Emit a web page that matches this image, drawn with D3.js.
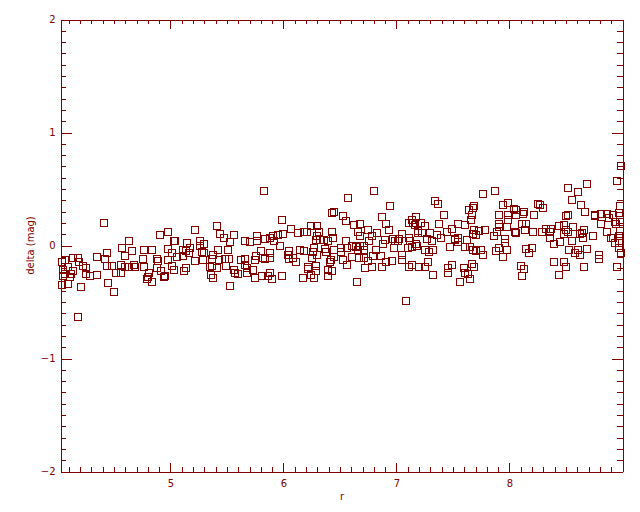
<!DOCTYPE html>
<html><head><meta charset="utf-8">
<script src="https://cdn.jsdelivr.net/npm/d3@7"></script>
<style>body{margin:0;background:#fff}svg{display:block}</style>
</head><body>
<svg id="c" width="640" height="512"></svg>
<script>
// tick labels
const xMajor = [5, 6, 7, 8];
const yMajor = [-2, -1, 0, 1, 2];
const xLabel = "r";
const yLabel = "delta (mag)";
// [r, delta] samples, grouped by r
const r4to5 = [[4.41,0.20],[4.18,-0.63],[4.63,0.04],[4.57,-0.02],[4.66,-0.05],[4.60,-0.09],[4.44,-0.07],[4.42,-0.12],[4.35,-0.10],[4.14,-0.11],[4.18,-0.11],[4.07,-0.13],[4.19,-0.15],[4.23,-0.18],[4.25,-0.20],[4.09,-0.19],[4.04,-0.15],[4.14,-0.23],[4.12,-0.25],[4.07,-0.25],[4.05,-0.27],[4.11,-0.28],[4.04,-0.35],[4.09,-0.34],[4.21,-0.37],[4.25,-0.25],[4.29,-0.27],[4.35,-0.26],[4.44,-0.18],[4.48,-0.18],[4.45,-0.33],[4.50,-0.41],[4.52,-0.24],[4.56,-0.24],[4.56,-0.17],[4.60,-0.19],[4.63,-0.19],[4.68,-0.17],[4.69,-0.19],[4.77,-0.04],[4.76,-0.12],[4.77,-0.19],[4.84,-0.04],[4.91,0.09],[4.98,0.12],[4.88,-0.12],[4.89,-0.14],[4.88,-0.20],[4.81,-0.24],[4.80,-0.28],[4.79,-0.30],[4.84,-0.32],[4.92,-0.23],[4.94,-0.28],[4.95,-0.27],[4.98,-0.03],[5.01,-0.07],[5.03,0.04],[4.98,-0.13],[5.01,-0.18],[5.03,-0.22],[4.05,-0.22]];
const r5to6 = [[5.83,0.48],[5.99,0.23],[5.41,0.17],[5.22,0.14],[5.44,0.10],[5.47,0.07],[5.56,0.09],[5.53,0.03],[5.04,0.04],[5.15,0.02],[5.26,0.04],[5.30,0.01],[5.26,0.00],[5.17,-0.02],[5.11,-0.04],[5.14,-0.05],[5.16,-0.07],[5.28,-0.06],[5.30,-0.07],[5.06,-0.10],[5.11,-0.09],[5.38,-0.08],[5.42,-0.04],[5.51,-0.04],[5.66,0.04],[5.70,0.03],[5.77,0.08],[5.77,0.04],[5.84,0.06],[5.88,0.07],[5.91,0.08],[5.95,0.09],[5.92,0.04],[5.97,0.00],[6.00,0.10],[5.22,-0.14],[5.29,-0.13],[5.37,-0.12],[5.43,-0.13],[5.48,-0.12],[5.52,-0.12],[5.35,-0.19],[5.37,-0.18],[5.41,-0.20],[5.49,-0.18],[5.36,-0.26],[5.38,-0.29],[5.53,-0.36],[5.56,-0.22],[5.57,-0.24],[5.60,-0.25],[5.62,-0.13],[5.66,-0.12],[5.66,-0.17],[5.68,-0.20],[5.68,-0.24],[5.73,-0.22],[5.75,-0.13],[5.76,-0.09],[5.80,-0.05],[5.82,-0.11],[5.84,-0.12],[5.88,-0.07],[5.88,-0.11],[5.81,-0.27],[5.75,-0.29],[5.86,-0.27],[5.88,-0.24],[5.90,-0.30],[5.99,-0.27],[5.12,-0.23],[5.14,-0.20]];
const r6to7 = [[6.80,0.48],[6.57,0.42],[6.94,0.35],[6.43,0.29],[6.45,0.30],[6.53,0.26],[6.55,0.22],[6.87,0.25],[6.91,0.19],[6.93,0.14],[6.62,0.18],[6.68,0.19],[6.75,0.14],[6.66,0.12],[6.83,0.11],[6.68,0.08],[6.78,0.08],[6.90,0.05],[6.97,0.06],[6.99,0.04],[6.98,-0.02],[6.88,0.01],[6.76,0.04],[6.43,0.12],[6.44,0.07],[6.07,0.15],[6.13,0.11],[6.18,0.12],[6.21,0.12],[6.24,0.17],[6.30,0.17],[6.31,0.12],[6.30,0.08],[6.29,0.05],[6.32,0.05],[6.36,0.05],[6.39,0.04],[6.55,0.04],[6.51,-0.02],[6.56,-0.02],[6.61,0.00],[6.64,-0.01],[6.68,0.00],[6.71,0.00],[6.71,-0.04],[6.66,-0.04],[6.61,-0.10],[6.67,-0.11],[6.71,-0.11],[6.75,-0.14],[6.79,-0.09],[6.86,-0.09],[6.82,-0.04],[6.96,-0.14],[6.91,-0.15],[6.87,-0.19],[6.78,-0.19],[6.72,-0.20],[6.65,-0.32],[6.45,-0.04],[6.51,-0.06],[6.45,-0.10],[6.37,-0.03],[6.38,-0.06],[6.27,-0.02],[6.26,-0.06],[6.25,-0.11],[6.30,-0.08],[6.15,-0.04],[6.18,-0.05],[6.05,-0.05],[6.04,-0.08],[6.08,-0.11],[6.05,-0.12],[6.11,-0.15],[6.53,-0.13],[6.56,-0.17],[6.42,-0.13],[6.41,-0.15],[6.22,-0.19],[6.22,-0.21],[6.29,-0.18],[6.29,-0.23],[6.24,-0.26],[6.27,-0.29],[6.17,-0.29],[6.39,-0.22],[6.43,-0.23],[6.39,-0.27]];
const r7to8 = [[7.08,-0.49],[7.77,0.46],[7.87,0.48],[7.94,0.36],[7.99,0.38],[7.34,0.39],[7.37,0.37],[7.42,0.27],[7.38,0.19],[7.69,0.35],[7.68,0.33],[7.64,0.31],[7.67,0.27],[7.66,0.23],[7.61,0.18],[7.54,0.19],[7.49,0.15],[7.45,0.12],[7.91,0.27],[7.91,0.19],[7.91,0.16],[7.99,0.27],[7.99,0.23],[7.98,0.16],[7.89,0.12],[7.86,0.08],[7.96,0.06],[7.96,0.02],[7.91,-0.02],[7.88,-0.05],[7.94,-0.10],[7.98,-0.04],[7.78,0.14],[7.73,0.13],[7.69,0.14],[7.68,0.10],[7.70,0.09],[7.62,0.05],[7.65,-0.01],[7.61,-0.01],[7.68,-0.04],[7.70,-0.05],[7.75,-0.04],[7.77,-0.08],[7.54,0.07],[7.52,0.05],[7.54,0.03],[7.52,0.06],[7.47,-0.01],[7.39,0.07],[7.36,0.09],[7.31,0.04],[7.27,0.06],[7.30,0.11],[7.23,0.11],[7.25,0.17],[7.22,0.20],[7.19,0.13],[7.19,0.11],[7.17,0.25],[7.14,0.23],[7.11,0.20],[7.15,0.20],[7.16,0.18],[7.05,0.10],[7.02,0.06],[7.01,0.04],[7.11,0.07],[7.12,0.04],[7.10,-0.02],[7.14,-0.01],[7.17,0.01],[7.18,0.00],[7.05,-0.08],[7.05,-0.13],[7.25,-0.04],[7.29,-0.06],[7.32,-0.04],[7.28,-0.15],[7.14,-0.17],[7.11,-0.19],[7.20,-0.19],[7.25,-0.19],[7.32,-0.26],[7.49,-0.17],[7.46,-0.20],[7.46,-0.24],[7.56,-0.32],[7.60,-0.20],[7.61,-0.24],[7.63,-0.25],[7.67,-0.16],[7.69,-0.19],[7.65,-0.30]];
const r8to9 = [[8.69,0.54],[8.52,0.51],[8.61,0.47],[8.55,0.40],[8.63,0.36],[8.67,0.30],[8.95,0.57],[8.99,0.70],[8.25,0.37],[8.27,0.36],[8.30,0.33],[8.04,0.32],[8.06,0.31],[8.13,0.30],[8.12,0.28],[8.06,0.27],[8.22,0.27],[8.52,0.27],[8.50,0.26],[8.76,0.27],[8.76,0.26],[8.81,0.28],[8.86,0.28],[8.88,0.24],[8.92,0.27],[8.81,0.19],[8.93,0.21],[8.94,0.19],[8.98,0.35],[8.97,0.29],[8.98,0.21],[8.11,0.19],[8.15,0.19],[8.05,0.12],[8.06,0.11],[8.14,0.14],[8.21,0.12],[8.29,0.12],[8.32,0.15],[8.37,0.15],[8.36,0.12],[8.36,0.07],[8.44,0.17],[8.48,0.18],[8.50,0.14],[8.52,0.12],[8.48,0.10],[8.56,0.16],[8.66,0.14],[8.64,0.11],[8.65,0.07],[8.74,0.08],[8.62,0.10],[8.86,0.12],[8.90,0.07],[8.92,0.07],[8.97,0.08],[8.98,0.13],[8.93,0.02],[8.97,0.04],[8.55,0.04],[8.39,0.01],[8.45,0.03],[8.53,-0.04],[8.61,-0.04],[8.58,-0.07],[8.62,-0.08],[8.69,-0.03],[8.79,-0.08],[8.79,-0.12],[8.15,-0.03],[8.20,-0.02],[8.17,-0.07],[8.97,-0.02],[8.99,-0.07],[8.39,-0.15],[8.48,-0.15],[8.50,-0.19],[8.66,-0.19],[8.95,-0.19],[8.10,-0.18],[8.13,-0.21],[8.11,-0.27],[8.44,-0.26]];
const samples = [].concat(r4to5, r5to6, r6to7, r7to8, r8to9);

const col = "#800000";
const svg = d3.select("#c");
const L = 60.5, R = 622.5, T = 19.5, B = 471.5;
const x = d3.scaleLinear().domain([4.027, 9.0]).range([L, R]);
const y = d3.scaleLinear().domain([-2, 2]).range([B, T]);

const xMinor = d3.range(41, 90).map(v => v / 10).filter(v => !xMajor.includes(v) && v >= 4.027 && v <= 9.0);
const yMinor = d3.range(-20, 21).map(v => v / 10).filter(v => !yMajor.includes(v));

const font = "'DejaVu Sans', sans-serif";
function style(g, labels) {
  g.select(".domain").attr("stroke", col);
  g.selectAll(".tick line").attr("stroke", col);
  g.selectAll(".tick text").attr("fill", col).style("font-family", font).style("font-size", "10px");
  if (!labels) g.selectAll(".tick text").remove();
}
// bottom
svg.append("g").attr("transform", `translate(0,${B})`)
  .call(d3.axisBottom(x).tickValues(xMinor).tickSize(-4.5).tickSizeOuter(0).tickFormat(""))
  .call(g => style(g, false));
svg.append("g").attr("transform", `translate(0,${B})`)
  .call(d3.axisBottom(x).tickValues(xMajor).tickSize(-9).tickSizeOuter(0).tickPadding(8).tickFormat(d3.format("d")))
  .call(g => style(g, true));
// top
svg.append("g").attr("transform", `translate(0,${T})`)
  .call(d3.axisTop(x).tickValues(xMinor).tickSize(-4.5).tickSizeOuter(0).tickFormat(""))
  .call(g => style(g, false));
svg.append("g").attr("transform", `translate(0,${T})`)
  .call(d3.axisTop(x).tickValues(xMajor).tickSize(-9).tickSizeOuter(0).tickFormat(""))
  .call(g => style(g, false));
// left
svg.append("g").attr("transform", `translate(${L},0)`)
  .call(d3.axisLeft(y).tickValues(yMinor).tickSize(-5.5).tickSizeOuter(0).tickFormat(""))
  .call(g => style(g, false));
svg.append("g").attr("transform", `translate(${L},0)`)
  .call(d3.axisLeft(y).tickValues(yMajor).tickSize(-11).tickSizeOuter(0).tickPadding(5).tickFormat(d => d < 0 ? "\u2212" + Math.abs(d) : String(d)))
  .call(g => style(g, true));
// right
svg.append("g").attr("transform", `translate(${R},0)`)
  .call(d3.axisRight(y).tickValues(yMinor).tickSize(-5.5).tickSizeOuter(0).tickFormat(""))
  .call(g => style(g, false));
svg.append("g").attr("transform", `translate(${R},0)`)
  .call(d3.axisRight(y).tickValues(yMajor).tickSize(-11).tickSizeOuter(0).tickFormat(""))
  .call(g => style(g, false));

svg.selectAll("path, line").attr("shape-rendering", "crispEdges");

// axis titles
svg.append("text").attr("x", (L + R) / 2 + 0.5).attr("y", 500)
  .attr("text-anchor", "middle").attr("fill", col)
  .style("font-family", font).style("font-size", "10px").text(xLabel);
svg.append("text").attr("transform", `translate(34,${(T + B) / 2}) rotate(-90)`)
  .attr("text-anchor", "middle").attr("fill", col)
  .style("font-family", font).style("font-size", "10px").text(yLabel);

// markers
const s = 7;
svg.append("g").selectAll("rect").data(samples).join("rect")
  .attr("x", d => Math.round(x(d[0])) - s / 2)
  .attr("y", d => Math.round(y(d[1])) - s / 2)
  .attr("width", s).attr("height", s)
  .attr("fill", "none").attr("stroke", col).attr("stroke-width", 1)
  .attr("shape-rendering", "crispEdges");
</script>
</body></html>
